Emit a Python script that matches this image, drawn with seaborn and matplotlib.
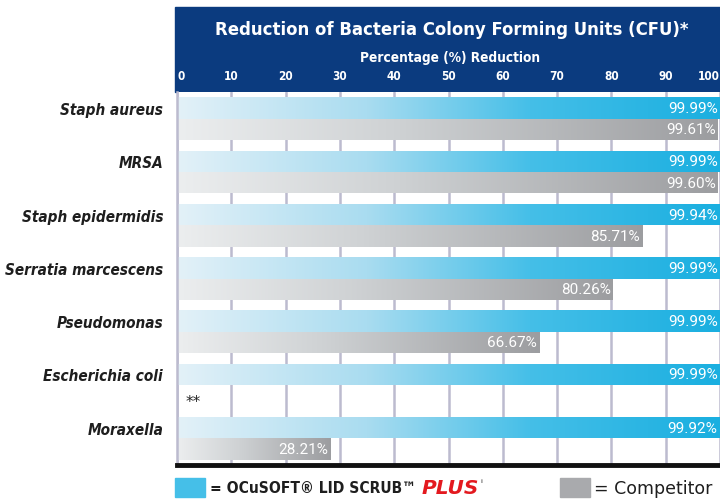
import numpy as np
import pandas as pd
import matplotlib.pyplot as plt
import seaborn as sns
from matplotlib.colors import LinearSegmentedColormap
from matplotlib.patches import Rectangle

# data
organisms = ['Staph aureus', 'MRSA', 'Staph epidermidis', 'Serratia marcescens',
             'Pseudomonas', 'Escherichia coli', 'Moraxella']
lid_scrub = [99.99, 99.99, 99.94, 99.99, 99.99, 99.99, 99.92]
competitor = [99.61, 99.60, 85.71, 80.26, 66.67, np.nan, 28.21]
series = ['OCuSOFT LID SCRUB PLUS', 'Competitor']
ticks = list(range(0, 101, 10))

df = pd.DataFrame({
    'organism': organisms * 2,
    'product': [series[0]] * len(organisms) + [series[1]] * len(organisms),
    'value': lid_scrub + competitor,
})

sns.set_theme(style='white')
plt.rcParams['font.family'] = ['DejaVu Sans']

fig = plt.figure(figsize=(7.2, 5.02), dpi=100)
ax = fig.add_axes([177 / 720, 1 - 466 / 502, 1 - 177 / 720, (466 - 93) / 502])

sns.barplot(data=df, y='organism', x='value', hue='product', orient='h',
            palette=['#1fb2e2', '#a0a1a4'], width=0.8, dodge=True,
            legend=False, ax=ax, saturation=1)

# gradient fill for each bar
blue_cmap = LinearSegmentedColormap.from_list(
    'b', [(0, '#e3f1f8'), (0.35, '#a9dcf0'), (0.65, '#45bfe8'), (1, '#1aafe0')])
grey_cmap = LinearSegmentedColormap.from_list(
    'g', [(0, '#eceeef'), (0.4, '#cfd2d4'), (1, '#9c9da0')])
grad = np.linspace(0, 1, 256).reshape(1, -1)
n = len(organisms)
for i, p in enumerate(ax.patches):
    w = p.get_width()
    if not np.isfinite(w) or w <= 0:
        continue
    cmap = blue_cmap if i < n else grey_cmap
    y0, h = p.get_y(), p.get_height()
    im = ax.imshow(grad, cmap=cmap, aspect='auto', extent=[0, w, y0 + h, y0],
                   zorder=2, interpolation='bicubic')
    im.set_clip_path(p)
    p.set_facecolor('none')
    p.set_edgecolor('none')

ax.set_xlim(0, 100)
ax.set_ylim(n - 0.5, -0.5)

# value labels at bar ends
for i in range(n):
    for vals, off in ((lid_scrub, -0.2), (competitor, 0.2)):
        v = vals[i]
        if np.isnan(v):
            continue
        ax.text(v - 0.4, i + off, f'{v:.2f}%', ha='right', va='center',
                color='white', fontsize=11, family='Roboto', zorder=4)
ax.text(1.6, 5.3, '**', ha='left', va='center', fontsize=11, color='#222222')

# axes styling
ax.xaxis.tick_top()
ax.set_xticks(ticks, labels=[str(t) for t in ticks])
ax.tick_params(axis='x', length=0, pad=7, labelsize=8.5, labelcolor='white')
for lab in ax.get_xticklabels():
    lab.set_fontweight('bold')
    lab.set_fontstretch('condensed')
ax.get_xticklabels()[0].set_horizontalalignment('left')
ax.get_xticklabels()[-1].set_horizontalalignment('right')
ax.set_yticks(np.arange(n) - 0.2, labels=organisms)
ax.tick_params(axis='y', length=0, pad=10, labelsize=11, labelcolor='#1e1e1e')
for lab in ax.get_yticklabels():
    lab.set_fontweight('bold')
    lab.set_fontstyle('italic')
    lab.set_fontstretch('condensed')
ax.set_xlabel('')
ax.set_ylabel('')
ax.xaxis.grid(True, color='#bcbbcf', linewidth=1.8)
ax.set_axisbelow(True)
for s in ('top', 'right'):
    ax.spines[s].set_visible(False)
ax.spines['left'].set_color('#bcbbcf')
ax.spines['left'].set_linewidth(1.8)
ax.spines['bottom'].set_color('#111111')
ax.spines['bottom'].set_linewidth(3.5)

# header band (behind the axes so the tick labels stay visible)
fig.patches.append(Rectangle((175 / 720, 1 - 93 / 502), 1, 85 / 502,
                             transform=fig.transFigure, color='#0b3b7f', zorder=-1))
fig.text(452 / 720, 1 - 30 / 502, 'Reduction of Bacteria Colony Forming Units (CFU)*',
         ha='center', va='center', color='white', fontsize=13.2, fontweight='bold',
         fontstretch='condensed')
fig.text(450 / 720, 1 - 58 / 502, 'Percentage (%) Reduction', ha='center', va='center',
         color='white', fontsize=9.8, fontweight='bold', fontstretch='condensed')

# legend at the bottom
fig.patches.append(Rectangle((175 / 720, 1 - 498 / 502), 30 / 720, 19 / 502,
                             transform=fig.transFigure, color='#45bfe8'))
t1 = fig.text(210 / 720, 1 - 489 / 502, '= OCuSOFT® LID SCRUB™', ha='left',
              va='center', fontsize=11.2, fontweight='bold', color='#1e1e1e',
              fontstretch='condensed')
renderer = fig.canvas.get_renderer()
x_end = fig.transFigure.inverted().transform(
    (t1.get_window_extent(renderer).x1, 0))[0]
t2 = fig.text(x_end + 5 / 720, 1 - 489 / 502, 'PLUS', ha='left', va='center',
              fontsize=14.5, fontweight='heavy', fontstyle='italic', color='#e3191f')
x_end2 = fig.transFigure.inverted().transform(
    (t2.get_window_extent(renderer).x1, 0))[0]
fig.text(x_end2 + 2 / 720, 1 - 484 / 502, 'ⁱ', ha='left', va='center', fontsize=8,
         color='#1e1e1e')
fig.patches.append(Rectangle((560 / 720, 1 - 498 / 502), 30 / 720, 19 / 502,
                             transform=fig.transFigure, color='#a9aaad'))
fig.text(594 / 720, 1 - 489 / 502, '= Competitor', ha='left', va='center',
         fontsize=12.5, color='#1e1e1e')

fig.savefig('out.png', dpi=100)
